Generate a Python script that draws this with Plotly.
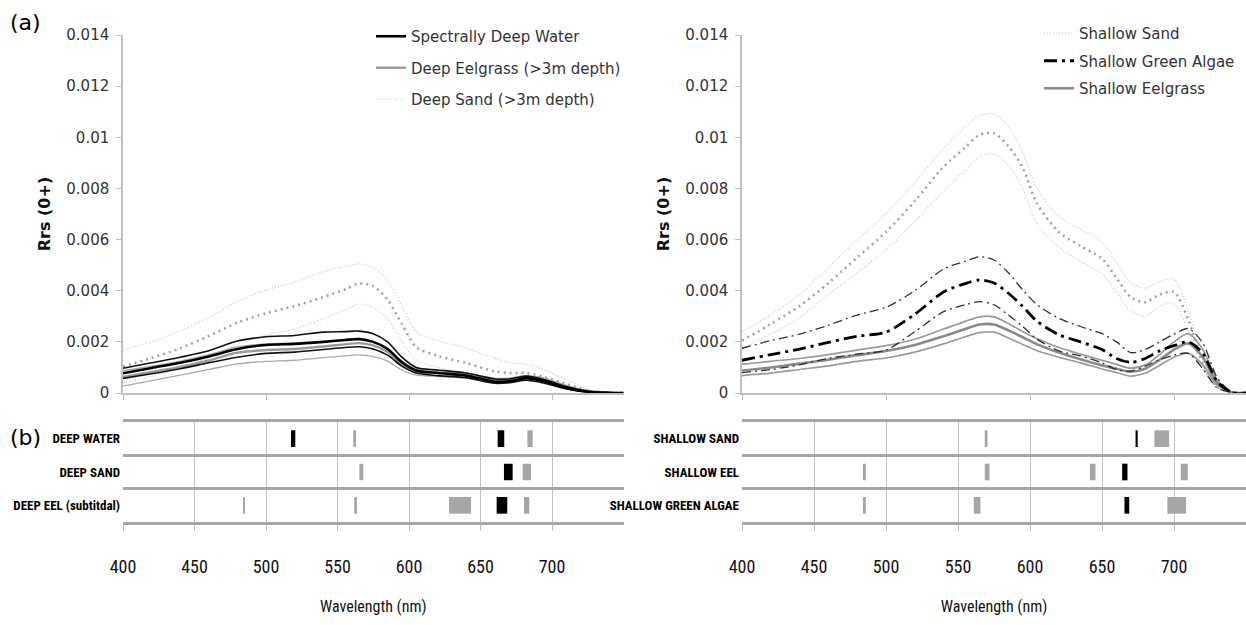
import plotly.graph_objects as go

W, H = 1246, 625

# ---------------- panel (a), left: deep classes ----------------
wl_deep = [400, 420, 440, 460, 480, 500, 520, 540, 555, 565, 575, 585, 595, 605,
           620, 640, 660, 670, 682, 695, 710, 725, 740, 750]

deep_water_upper = [.00097, .00118, .00140, .00165, .00203, .00220, .00225, .00238, .00240, .00242, .00232, .00200,
                    .00140, .00100, .00090, .00078, .00055, .00055, .00066, .00052, .00025, .00007, .00001, 0]
deep_water_mean = [.00077, .00098, .00118, .00143, .00172, .00188, .00192, .00200, .00207, .00211, .00200, .00172,
                   .00120, .00088, .00078, .00068, .00044, .00046, .00058, .00045, .00020, .00005, .00001, 0]
deep_water_lower = [.00057, .00075, .00095, .00118, .00140, .00155, .00160, .00170, .00178, .00181, .00172, .00148,
                    .00105, .00078, .00068, .00060, .00038, .00040, .00050, .00038, .00016, .00004, 0, 0]

deep_eel_upper = [.00087, .00105, .00125, .00150, .00180, .00192, .00196, .00200, .00205, .00207, .00198, .00175,
                  .00125, .00095, .00088, .00078, .00058, .00058, .00068, .00058, .00030, .00009, .00001, 0]
deep_eel_mean = [.00063, .00082, .00102, .00127, .00158, .00168, .00172, .00182, .00190, .00195, .00186, .00160,
                 .00112, .00085, .00080, .00070, .00050, .00052, .00062, .00050, .00025, .00007, .00001, 0]
deep_eel_lower = [.00027, .00048, .00070, .00092, .00114, .00124, .00128, .00138, .00145, .00149, .00142, .00125,
                  .00090, .00070, .00065, .00058, .00040, .00042, .00050, .00040, .00018, .00005, 0, 0]

deep_sand_upper = [.00168, .00200, .00243, .00295, .00358, .00403, .00433, .00475, .00495, .00505, .00490, .00440,
                   .00340, .00240, .00205, .00176, .00135, .00118, .00113, .00090, .00052, .00015, .00002, 0]
deep_sand_mean = [.00103, .00137, .00175, .00223, .00275, .00312, .00340, .00375, .00405, .00428, .00418, .00365,
                  .00270, .00180, .00145, .00117, .00085, .00078, .00078, .00062, .00035, .00010, .00001, 0]
deep_sand_lower = [.00039, .00065, .00095, .00140, .00190, .00227, .00250, .00290, .00325, .00348, .00335, .00290,
                   .00200, .00130, .00100, .00080, .00045, .00040, .00050, .00035, .00015, .00004, 0, 0]

# ---------------- panel (a), right: shallow classes ----------------
wl_shallow = [400, 420, 440, 460, 480, 500, 520, 540, 555, 565, 575, 585, 595, 605, 620, 635,
              650, 660, 670, 680, 690, 700, 710, 720, 730, 740, 750]

sh_sand_upper = [.00240, .00305, .00385, .00490, .00600, .00700, .00825, .00955, .01040, .01085, .01092, .01040,
                 .00940, .00800, .00690, .00640, .00590, .00510, .00430, .00410, .00435, .00445, .00320, .00130,
                 .00030, .00003, 0]
sh_sand_mean = [.00205, .00270, .00340, .00430, .00530, .00630, .00750, .00885, .00960, .01010, .01015, .00965,
                .00880, .00740, .00630, .00575, .00525, .00450, .00375, .00355, .00385, .00395, .00285, .00115,
                .00025, .00002, 0]
sh_sand_lower = [.00175, .00230, .00295, .00385, .00470, .00560, .00670, .00790, .00870, .00925, .00935, .00890,
                 .00800, .00660, .00570, .00515, .00465, .00395, .00320, .00300, .00340, .00350, .00240, .00095,
                 .00020, .00002, 0]

sh_algae_upper = [.00175, .00205, .00230, .00265, .00305, .00335, .00400, .00485, .00515, .00533, .00520, .00470,
                  .00403, .00345, .00292, .00260, .00232, .00200, .00158, .00170, .00200, .00230, .00252, .00195,
                  .00060, .00005, 0]
sh_algae_mean = [.00128, .00150, .00172, .00198, .00222, .00238, .00308, .00395, .00428, .00442, .00430, .00390,
                 .00338, .00280, .00228, .00200, .00170, .00135, .00120, .00135, .00165, .00185, .00200, .00155,
                 .00045, .00003, 0]
sh_algae_lower = [.00080, .00092, .00110, .00135, .00152, .00168, .00240, .00318, .00345, .00357, .00345, .00305,
                  .00260, .00210, .00165, .00145, .00118, .00092, .00086, .00105, .00130, .00148, .00155, .00095,
                  .00020, .00002, 0]

sh_eel_upper = [.00112, .00124, .00135, .00150, .00168, .00185, .00210, .00250, .00280, .00298, .00298, .00272,
                .00240, .00212, .00178, .00152, .00128, .00112, .00097, .00110, .00150, .00200, .00232, .00170,
                .00050, .00004, 0]
sh_eel_mean = [.00088, .00100, .00115, .00130, .00148, .00164, .00188, .00222, .00250, .00268, .00268, .00245,
               .00218, .00190, .00158, .00132, .00108, .00095, .00083, .00095, .00130, .00170, .00194, .00140,
               .00040, .00003, 0]
sh_eel_lower = [.00068, .00078, .00092, .00106, .00124, .00137, .00160, .00192, .00220, .00236, .00238, .00215,
                .00190, .00165, .00140, .00118, .00094, .00080, .00066, .00078, .00108, .00140, .00155, .00110,
                .00030, .00002, 0]

# ---------------- panel (b): band selections ----------------
deep_classes = ["DEEP WATER", "DEEP SAND", "DEEP EEL (subtitdal)"]
deep_band_class = ["DEEP WATER"] * 4 + ["DEEP SAND"] * 3 + ["DEEP EEL (subtitdal)"] * 5
deep_band_start = [517.5, 561.0, 662.0, 682.8, 565.3, 666.4, 679.5, 484.3, 561.7, 628.0, 661.3, 680.4]
deep_band_end = [520.5, 563.0, 666.6, 686.5, 568.0, 672.5, 685.3, 485.2, 563.6, 643.4, 668.7, 684.1]
deep_band_tone = ["black", "gray", "black", "gray", "gray", "black", "gray",
                  "gray", "gray", "gray", "black", "gray"]

shallow_classes = ["SHALLOW SAND", "SHALLOW EEL", "SHALLOW GREEN ALGAE"]
shallow_band_class = ["SHALLOW SAND"] * 3 + ["SHALLOW EEL"] * 5 + ["SHALLOW GREEN ALGAE"] * 4
shallow_band_start = [568.6, 673.3, 686.4, 484.0, 568.6, 641.6, 664.0, 704.7, 484.0, 561.0, 665.6, 695.4]
shallow_band_end = [570.5, 674.8, 696.6, 486.0, 571.9, 645.5, 667.7, 709.6, 486.0, 565.6, 668.9, 708.4]
shallow_band_tone = ["gray", "black", "gray", "gray", "gray", "gray", "black", "gray",
                     "gray", "gray", "black", "gray"]

# ---------------- ticks ----------------
y_tick_vals = [0, 0.002, 0.004, 0.006, 0.008, 0.010, 0.012, 0.014]
y_tick_text = ["0", "0.002", "0.004", "0.006", "0.008", "0.01", "0.012", "0.014"]
top_x_ticks = [400, 500, 600, 700]
wl_tick_vals = [400, 450, 500, 550, 600, 650, 700]
wl_tick_text = ["400", "450", "500", "550", "600", "650", "700"]

# ---------------- styles ----------------
TONE = {"black": "#000000", "gray": "#a6a6a6"}
NARROW = ("Liberation Sans Narrow, 'Noto Sans Condensed', 'Roboto Condensed', "
          "'DejaVu Sans Condensed', 'Arial Narrow', Roboto, sans-serif")
SANS = "DejaVu Sans, sans-serif"

STY = {
    "water": (dict(color="#000000", width=2.6), dict(color="#111111", width=1.6)),
    "deel": (dict(color="#9a9a9a", width=2.4), dict(color="#a9a9a9", width=1.3)),
    "sand": (dict(color="#a3a3a3", width=2.6, dash="2px,4px"), dict(color="#c4c4c4", width=1.2, dash="1px,2px")),
    "algae": (dict(color="#000000", width=2.8, dash="13px,5px,3px,5px"),
              dict(color="#303030", width=1.3, dash="9px,4px,2px,4px")),
    "seel": (dict(color="#8a8a8a", width=2.6), dict(color="#9a9a9a", width=1.7)),
}

fig = go.Figure()


def add_class(wl, up, mean, low, name, sty, xa, ya, legend, rank, legend_on_std=False):
    mstyle, sstyle = STY[sty]
    for vals, is_mean in ((up, False), (low, False), (mean, True)):
        show = (vals is up) if legend_on_std else is_mean
        fig.add_trace(go.Scatter(
            x=wl, y=vals, mode="lines", name=name, legendgroup=name,
            showlegend=show, legend=legend, legendrank=rank,
            line=dict(shape="spline", smoothing=0.8, **(mstyle if is_mean else sstyle)),
            xaxis=xa, yaxis=ya, hoverinfo="skip"))


add_class(wl_deep, deep_sand_upper, deep_sand_mean, deep_sand_lower,
          "Deep Sand (>3m depth)", "sand", "x", "y", "legend", 3, legend_on_std=True)
add_class(wl_deep, deep_eel_upper, deep_eel_mean, deep_eel_lower,
          "Deep Eelgrass (>3m depth)", "deel", "x", "y", "legend", 2)
add_class(wl_deep, deep_water_upper, deep_water_mean, deep_water_lower,
          "Spectrally Deep Water", "water", "x", "y", "legend", 1)

add_class(wl_shallow, sh_sand_upper, sh_sand_mean, sh_sand_lower,
          "Shallow Sand", "sand", "x2", "y2", "legend2", 1, legend_on_std=True)
add_class(wl_shallow, sh_eel_upper, sh_eel_mean, sh_eel_lower,
          "Shallow Eelgrass", "seel", "x2", "y2", "legend2", 3)
add_class(wl_shallow, sh_algae_upper, sh_algae_mean, sh_algae_lower,
          "Shallow Green Algae", "algae", "x2", "y2", "legend2", 2)


def add_bands(cls, start, end, tone, xa, ya):
    for t in ("gray", "black"):
        idx = [i for i, k in enumerate(tone) if k == t]
        fig.add_trace(go.Bar(
            orientation="h", y=[cls[i] for i in idx],
            x=[end[i] - start[i] for i in idx], base=[start[i] for i in idx],
            width=0.5, marker=dict(color=TONE[t], line=dict(width=0)),
            showlegend=False, hoverinfo="skip", xaxis=xa, yaxis=ya))


add_bands(deep_band_class, deep_band_start, deep_band_end, deep_band_tone, "x3", "y3")
add_bands(shallow_band_class, shallow_band_start, shallow_band_end, shallow_band_tone, "x4", "y4")

# invisible carriers for the wavelength label axes (labels sit well below panel b)
fig.add_trace(go.Scatter(x=[400], y=[0], mode="markers", marker=dict(opacity=0),
                         showlegend=False, hoverinfo="skip", xaxis="x5", yaxis="y5"))
fig.add_trace(go.Scatter(x=[400], y=[0], mode="markers", marker=dict(opacity=0),
                         showlegend=False, hoverinfo="skip", xaxis="x6", yaxis="y5"))

# ---------------- layout ----------------
LX = [123 / W, 623.5 / W]
RX = [742 / W, 1.0]
TOPY = [1 - 393 / H, 1 - 35 / H]
BOTY = [1 - 522 / H, 1 - 422 / H]

top_x = dict(range=[400, 750], showline=True, linecolor="#bfbfbf", linewidth=1.5,
             ticks="outside", ticklen=5, tickcolor="#bfbfbf", tickvals=top_x_ticks,
             showticklabels=False, showgrid=False, zeroline=False, automargin=False)
top_y = dict(range=[0, 0.014], showline=True, linecolor="#bfbfbf", linewidth=1.5,
             ticks="outside", ticklen=5, tickcolor="#bfbfbf",
             tickvals=y_tick_vals, ticktext=y_tick_text, ticklabelstandoff=4,
             tickfont=dict(family=SANS, size=15, color="#333333"),
             showgrid=False, zeroline=False, automargin=False,
             title=dict(text="<b>Rrs (0+)</b>", font=dict(family=SANS, size=16, color="#111111"), standoff=12))
bot_x = dict(range=[400, 750], showline=True, mirror=True, linecolor="#a6a6a6", linewidth=3,
             ticks="outside", ticklen=6, tickcolor="#bfbfbf", tickvals=wl_tick_vals,
             showticklabels=False, showgrid=True, gridcolor="#c0c0c0", gridwidth=1, zeroline=False,
             automargin=False)
bot_y = dict(type="category", categoryorder="array", range=[-0.5, 2.5], tickson="boundaries",
             showgrid=True, gridcolor="#a6a6a6", gridwidth=3, ticks="", showline=False,
             tickfont=dict(family=NARROW, size=13, color="#000000", weight="bold"),
             ticklabelstandoff=2, automargin=False)
lab_x = dict(range=[400, 750], showline=False, ticks="", tickvals=wl_tick_vals, ticktext=wl_tick_text,
             tickfont=dict(family=NARROW, size=18, color="#111111"), showgrid=False, zeroline=False,
             automargin=False)
lab_title = dict(text="Wavelength (nm)", font=dict(family=NARROW, size=16, color="#111111"), standoff=24)

fig.update_layout(
    width=W, height=H, margin=dict(l=0, r=0, t=0, b=0, pad=0, autoexpand=False),
    paper_bgcolor="white", plot_bgcolor="white", barmode="overlay",
    xaxis=dict(domain=LX, anchor="y", **top_x),
    yaxis=dict(domain=TOPY, anchor="x", **top_y),
    xaxis2=dict(domain=RX, anchor="y2", **top_x),
    yaxis2=dict(domain=TOPY, anchor="x2", **top_y),
    xaxis3=dict(domain=LX, anchor="y3", **bot_x),
    yaxis3=dict(domain=BOTY, anchor="x3", categoryarray=list(reversed(deep_classes)), **bot_y),
    xaxis4=dict(domain=RX, anchor="y4", **bot_x),
    yaxis4=dict(domain=BOTY, anchor="x4", categoryarray=list(reversed(shallow_classes)), **bot_y),
    yaxis5=dict(domain=[1 - 554 / H, 1 - 548 / H], range=[0, 1], visible=False, anchor="x5"),
    xaxis5=dict(domain=LX, anchor="y5", title=lab_title, **lab_x),
    xaxis6=dict(domain=RX, anchor="y5", title=lab_title, **lab_x),
    legend=dict(x=371 / W, y=1 - 20 / H, xanchor="left", yanchor="top",
                font=dict(family=SANS, size=15, color="#333333"), bgcolor="rgba(0,0,0,0)",
                traceorder="grouped", tracegroupgap=9, itemwidth=30),
    legend2=dict(x=1039 / W, y=1 - 17 / H, xanchor="left", yanchor="top",
                 font=dict(family=SANS, size=15, color="#333333"), bgcolor="rgba(0,0,0,0)",
                 traceorder="grouped", tracegroupgap=5, itemwidth=30),
    annotations=[
        dict(text="(a)", x=25 / W, y=1 - 22 / H, xref="paper", yref="paper", showarrow=False,
             xanchor="center", yanchor="middle", font=dict(family=SANS, size=22, color="#000000")),
        dict(text="(b)", x=25 / W, y=1 - 437 / H, xref="paper", yref="paper", showarrow=False,
             xanchor="center", yanchor="middle", font=dict(family=SANS, size=22, color="#000000")),
    ],
)

fig.write_html("out.html")
